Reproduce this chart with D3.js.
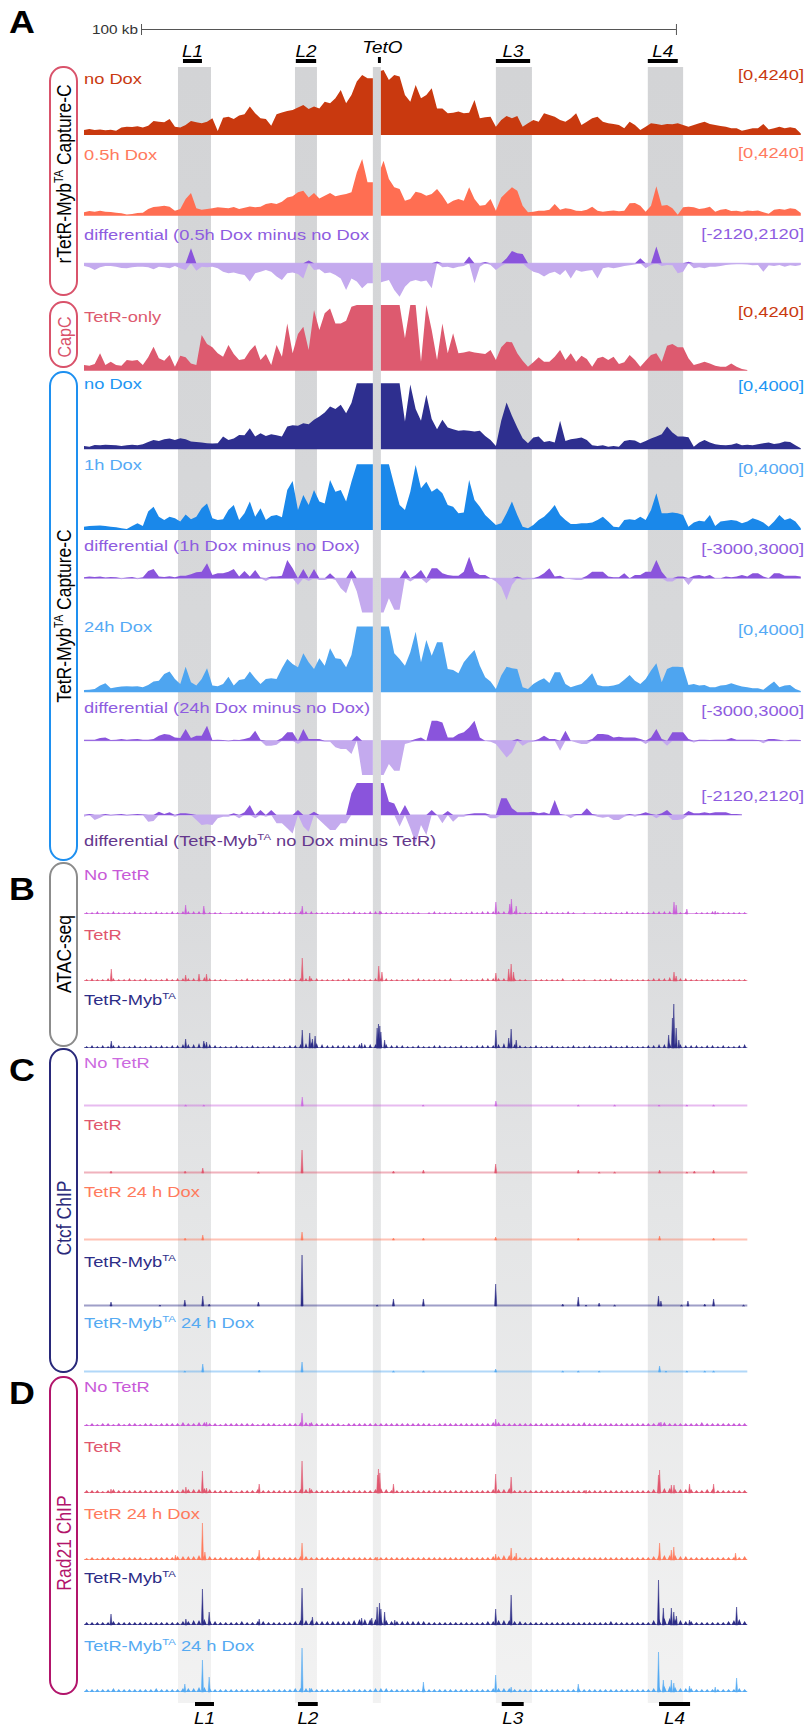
<!DOCTYPE html>
<html>
<head>
<meta charset="utf-8">
<script src="https://cdn.jsdelivr.net/npm/d3@7"></script>
<style>
  body { margin: 0; background: #fff; }
  svg { display: block; }
  text { font-family: "Liberation Sans", Arial, Helvetica, sans-serif; white-space: pre; }
</style>
</head>
<body>
<svg id="fig" width="806" height="1727"></svg>
<script>
// ---------------------------------------------------------------------------
// Capture-C profiles, one value per 1 kb bin from the left edge of the window
// ---------------------------------------------------------------------------
const rtNoDox = [
  310,370,310,350,290,330,270,460,520,500,
  540,460,580,870,830,790,1000,520,460,620,
  870,790,730,830,1040,250,1080,1140,1000,1210,
  1290,1770,1350,1040,1000,580,1290,1410,1500,1560,
  1710,1870,1620,1770,1660,2080,1980,2290,2810,1980,
  2500,3330,3740,3540,3540,3950,4060,3430,3740,3640,
  2500,2080,3120,2290,2500,2910,1660,1660,1350,1390,
  1460,1350,1390,2180,1040,1100,1140,520,940,1190,
  1040,1190,520,730,940,830,1350,1250,1140,940,
  830,1040,1350,620,830,1040,1140,830,730,690,
  620,420,830,620,310,520,730,690,620,690,
  670,730,620,520,620,730,830,690,620,560,
  520,420,420,270,350,420,420,690,350,420,
  520,420,480,420,100];
const rtHalfHour = [
  210,290,250,310,250,230,190,150,80,100,
  170,190,420,540,580,620,560,310,420,1040,
  1410,460,370,420,460,520,500,460,540,420,
  500,580,520,560,730,790,730,870,1140,1210,
  1460,1560,1140,1410,1080,1250,1410,1210,1290,1350,
  1460,2700,3540,2080,2080,2500,3430,2290,1770,1660,
  940,1040,1500,1410,1250,1350,1660,1250,730,940,
  1040,940,1770,1040,620,670,1040,310,1140,1460,
  1770,1560,620,210,250,310,310,370,730,370,
  460,420,310,290,370,560,310,250,290,330,
  270,310,770,790,620,250,620,1830,620,670,
  460,60,520,560,520,420,460,560,250,370,
  420,290,310,250,330,290,330,210,120,370,
  420,370,460,420,170];
const rtDiffHalfHour = [
  -170,-250,-420,-250,-170,-170,-210,-290,-310,-250,
  -210,-210,-250,-370,-210,-250,-310,-170,-310,-420,
  940,-460,-210,-250,-210,-310,-520,-620,-580,-670,
  -730,-1140,-620,-520,-420,-520,-830,-1040,-620,-580,
  -670,-940,170,-420,-370,-620,-580,-730,-940,-1660,
  -940,-1140,-1560,-1250,-1250,-1250,-1140,-1040,-1660,-2080,
  -1460,-1140,-1040,-1140,-1080,-1560,120,-250,-210,-310,
  -210,-170,420,-1250,-210,80,-100,-420,-170,310,
  770,620,580,-310,-520,-620,-830,-620,-520,-730,
  -420,-940,-420,-520,-460,-420,-940,-310,-250,-310,
  -250,-170,-120,-80,310,-310,-100,1040,-170,-100,
  -120,-620,-520,100,-310,-250,-310,-210,-210,-170,
  -100,-80,-60,-60,-80,-120,-100,-520,-120,-170,
  -100,-210,-120,-170,-100];
const tetrOnly = [
  370,320,430,1120,370,580,370,320,690,650,
  690,370,860,1550,800,650,1010,260,970,860,
  470,370,2300,1720,1510,1120,900,1660,1080,690,
  750,1290,1660,690,1080,370,1660,900,3050,1120,
  2370,2840,1330,3910,2620,3700,4020,3050,3050,3230,
  4130,5000,5000,5000,5000,5000,5000,5000,5000,5000,
  2090,5000,5000,580,5000,2620,690,3050,1120,2410,
  1120,1180,1250,1180,1120,1080,1330,690,1510,1870,
  1830,1120,650,260,540,860,580,580,900,1330,
  690,1120,580,970,750,260,800,900,690,900,
  430,540,1010,690,260,650,1010,1120,580,1610,
  1720,1510,1510,800,370,470,580,470,320,260,
  260,470,260,110,40];
const tmNoDox = [
  200,160,260,240,280,260,240,200,240,280,
  240,300,450,570,510,610,650,570,670,610,
  470,450,410,370,350,370,770,570,650,870,
  850,1280,770,970,810,910,850,770,1380,1460,
  1420,1580,1520,1790,1990,2230,2600,2440,2700,2190,
  2800,4800,4800,4800,4800,4800,4800,4800,4800,4800,
  1680,3920,2440,1730,3310,1830,1220,1790,1320,1220,
  1120,1160,1120,1080,1120,810,570,200,1730,2840,
  2030,1320,670,370,710,770,450,510,410,1730,
  510,610,650,710,570,240,200,240,160,200,
  160,510,570,530,370,510,650,770,910,1380,
  1020,770,770,730,160,410,570,410,300,260,
  240,280,370,240,280,240,300,370,410,320,
  370,470,450,240,60];
const tm1hDox = [
  200,240,260,280,240,200,160,100,60,240,
  410,240,1120,1420,810,610,810,710,510,950,
  650,810,1320,1620,710,610,650,1220,1520,610,
  1020,1730,810,1320,610,850,910,770,2440,2980,
  1220,2130,1520,2440,1730,1620,3050,2330,2440,1730,
  2940,4800,4800,4800,4800,4800,4800,4800,2740,1520,
  1220,2330,3960,2540,2940,2330,2540,2230,1520,1420,
  1020,1060,3050,1830,1420,910,610,300,410,1020,
  1730,910,200,100,300,610,810,1120,1520,910,
  610,370,370,410,410,450,610,810,510,200,
  160,610,650,610,810,610,1220,2230,1020,1020,
  1060,1020,910,200,450,570,510,910,240,510,
  570,610,570,410,510,710,610,450,200,510,
  910,610,710,510,100];
const tmDiff1h = [
  90,150,120,150,60,120,90,-90,60,120,
  -90,90,640,810,150,120,170,90,230,230,
  350,520,580,1310,290,440,440,580,810,150,
  640,150,730,60,-230,150,150,230,1600,870,
  -580,810,-230,810,-150,-150,440,-150,-870,-1310,
  730,-1160,-3200,-3200,-3200,-3200,-3200,-1750,-2760,-2760,
  730,-290,290,730,-440,870,870,440,290,230,
  230,580,1890,580,290,290,0,-290,-730,-1890,
  -580,150,-150,-90,-90,150,440,870,150,230,
  0,-90,-150,-150,230,580,580,580,150,90,
  90,440,0,290,290,580,580,1600,580,-290,
  -290,150,150,-580,230,290,150,290,0,0,
  150,90,150,290,150,440,440,150,0,440,
  440,230,230,230,150];
const tm24hDox = [
  140,160,200,410,550,240,300,350,370,350,
  370,300,450,650,710,1120,1260,810,510,1560,
  610,410,810,1460,410,370,510,950,410,750,
  810,1260,850,510,810,850,810,1460,2030,1730,
  1520,2380,1830,1420,2070,1620,2680,2070,2030,1520,
  2270,4800,4800,4800,4800,4800,4800,4800,2380,2030,
  1620,2440,3690,1830,3190,2230,3050,3050,1420,1360,
  1160,1830,2230,2580,1620,910,650,200,1020,1560,
  1460,1420,300,200,510,710,850,570,1220,1220,
  510,300,410,510,810,1160,450,370,370,410,
  510,770,1060,710,510,810,1320,1770,610,1420,
  1560,1560,1520,450,510,410,450,300,300,410,
  450,550,450,350,300,240,240,160,410,650,
  300,410,450,200,80];
const tmDiff24h = [
  90,90,90,230,290,60,90,150,90,120,
  150,90,90,150,440,580,520,290,230,1020,
  230,440,440,1310,60,90,60,-60,90,60,
  150,290,870,90,-440,-440,-350,230,730,730,
  -290,1020,150,150,150,-90,-90,-580,-730,-730,
  -1160,440,-3200,-3200,-3200,-3200,-3200,-2040,-2620,-2620,
  -290,-150,150,290,0,1750,1750,1600,290,290,
  580,730,1160,1750,290,0,-90,-290,-870,-1460,
  -1020,150,-440,-150,-90,150,440,150,150,-870,
  870,0,-150,-290,-290,150,580,580,520,290,
  350,290,290,290,150,-290,290,1020,150,-440,
  730,730,730,150,-150,90,90,60,90,90,
  90,230,90,90,90,90,60,-230,150,150,
  90,0,90,90,60];
const tmDiffVsTetR = [
  -110,70,-330,-180,70,-70,40,70,-70,40,
  70,40,-440,-400,220,70,180,-110,110,110,
  70,-330,-660,-620,-660,-220,-110,-110,110,-220,
  180,660,-220,330,-110,330,-550,-550,-880,-1220,
  330,-770,-1110,220,-330,-660,-990,-990,-550,-550,
  1440,2430,2430,2210,2430,2430,2430,880,770,-770,
  660,-880,-1880,-660,-1330,330,0,-550,270,-440,
  -110,-110,70,110,110,110,-220,-220,1110,1110,
  440,180,180,180,220,110,180,70,990,70,
  0,-220,70,70,440,70,-110,-180,-110,-330,
  -330,-110,70,-110,70,180,70,-220,110,330,
  -330,-330,-270,270,110,110,180,110,180,180,
  180,70,70,40];

// Data ranges printed at the right of each Capture-C track
const captureRanges = ["[0,4240]","[0,4240]","[-2120,2120]","[0,4240]","[0,4000]",
                       "[0,4000]","[-3000,3000]","[0,4000]","[-3000,3000]","[-2120,2120]"];

// ---------------------------------------------------------------------------
// ATAC / ChIP tracks: background signal per 1 kb bin and called peaks [kb, signal]
// ---------------------------------------------------------------------------
const atacNoTetRBg = [
  2,2,3,2,2,3,2,2,2,3, 2,2,2,3,2,2,3,2,3,3, 3,3,3,2,2,2,0,2,2,3, 2,2,2,3,2,2,3,2,2,2,
  3,3,3,2,2,2,2,2,2,2, 3,2,2,3,3,3,2,2,2,2, 2,2,2,0,2,3,2,2,2,2, 2,2,3,2,3,3,3,3,3,4,
  3,2,2,2,2,2,3,2,2,2, 3,2,0,2,0,2,2,2,2,2, 2,3,2,2,2,2,3,3,3,3, 3,2,2,0,2,2,2,3,2,2,
  2,2,2,2];
const atacTetRBg = [
  2,3,2,2,3,3,2,2,3,2, 2,3,2,2,2,3,2,3,3,3, 3,3,4,3,2,2,2,0,2,2, 3,2,2,2,2,2,2,2,3,2,
  3,3,3,3,2,2,2,2,2,3, 2,2,2,2,3,3,3,2,2,2, 2,2,3,2,2,2,2,2,3,0, 2,2,2,2,3,3,3,3,3,4,
  3,2,2,0,2,2,2,2,2,3, 0,2,2,2,0,2,2,2,3,2, 2,2,2,2,2,2,3,3,3,4, 3,3,3,2,2,2,2,2,2,2,
  2,2,2,2];
const atacMybBg = [
  2,3,2,3,2,3,3,2,2,3, 2,2,3,2,3,2,3,3,4,4, 4,5,5,4,3,2,2,2,3,2, 2,3,2,2,2,3,2,2,3,3,
  4,5,6,5,4,3,3,3,3,3, 3,4,4,4,4,4,4,3,3,3, 2,2,3,2,2,3,3,2,2,2, 3,2,2,3,3,3,3,4,5,5,
  4,3,2,2,3,2,2,3,2,2, 2,3,2,2,3,2,2,2,3,2, 2,3,2,2,2,3,3,4,4,5, 5,4,3,3,3,2,3,3,2,3,
  2,2,3,4];
const rad21NoTetRBg = [
  2,3,2,3,3,2,3,2,3,3, 2,3,3,2,3,3,3,3,4,3, 3,4,4,3,3,2,3,3,3,3, 3,3,2,3,3,3,2,3,3,3,
  4,4,4,3,3,3,3,3,2,3, 3,3,3,3,3,3,3,3,3,3, 3,3,3,3,3,2,3,3,3,3, 3,3,3,3,3,3,4,4,3,3,
  3,3,3,3,3,3,3,3,3,3, 3,3,3,4,3,3,3,3,3,3, 3,3,3,3,3,3,3,4,4,3, 3,3,3,3,3,4,3,3,3,3,
  3,3,3,3];
const rad21TetRBg = [
  3,3,3,2,3,4,3,3,3,3, 3,3,3,3,3,3,4,3,4,4, 4,4,5,4,3,3,3,3,2,3, 3,3,4,3,3,3,3,3,3,3,
  4,4,4,3,3,3,3,3,3,3, 3,3,3,3,4,5,4,3,3,3, 3,3,3,3,3,3,3,3,3,3, 3,3,3,3,3,3,4,4,4,5,
  3,3,3,3,3,3,3,3,3,3, 3,3,3,3,3,3,3,3,3,3, 3,3,3,3,3,3,4,5,5,5, 4,4,4,4,3,3,4,4,3,3,
  3,3,3,3];
const rad21TetRDoxBg = [
  2,3,2,3,3,3,2,3,3,3, 3,2,3,3,3,3,3,4,4,4, 4,5,5,4,3,3,3,3,3,3, 3,3,4,3,3,3,3,3,3,3,
  4,4,3,3,3,3,3,3,3,3, 3,3,3,3,3,3,3,3,3,3, 3,3,3,3,3,3,3,3,3,3, 3,3,3,3,3,3,4,4,5,5,
  4,3,3,3,3,3,3,3,3,3, 3,3,3,3,3,3,3,3,3,3, 3,3,3,3,3,3,4,5,5,5, 5,4,4,3,3,3,3,3,3,3,
  3,3,3,4];
const rad21MybBg = [
  3,3,3,3,3,4,3,3,3,3, 3,3,3,3,3,3,3,3,4,4, 5,5,6,5,4,3,3,3,3,4, 3,3,4,4,3,3,3,3,3,4,
  5,5,5,4,4,4,4,4,4,4, 5,6,6,6,6,6,5,4,4,4, 4,4,4,4,3,3,3,3,3,3, 3,3,3,3,3,4,4,5,5,5,
  4,4,3,3,3,3,3,3,3,3, 3,3,3,3,3,3,3,3,4,3, 3,3,3,3,3,3,5,6,7,7, 6,5,4,4,3,3,3,3,3,3,
  4,5,6,4];
const rad21MybDoxBg = [
  3,3,3,3,3,4,3,3,3,3, 3,3,3,4,3,3,3,3,4,4, 4,5,5,4,3,3,3,3,3,3, 3,3,3,3,3,3,3,3,3,4,
  4,4,4,3,3,3,3,3,3,3, 3,3,3,3,4,4,4,3,3,3, 3,3,3,4,3,3,3,3,3,3, 3,3,3,3,3,3,4,4,4,4,
  3,3,3,3,3,3,3,3,3,3, 3,3,4,3,3,3,3,3,3,3, 3,3,3,3,3,3,4,5,6,6, 5,4,4,4,3,3,3,3,3,3,
  3,3,4,3];

const atacNoTetRPeaks = [[19.0,9],[22.4,8],[40.8,8],[55.3,3],[77.0,12],[79.6,10],[79.9,15],[80.8,8],[110.3,12],[110.7,9],[112.7,5],[118.0,3]];
const atacTetRPeaks = [[5.1,12],[19.0,6],[21.5,7],[22.9,7],[40.8,23],[42.2,5],[55.1,15],[55.7,9],[77.0,8],[79.4,12],[79.85,17],[80.3,9],[110.3,9],[110.7,5]];
const atacMybPeaks = [[5.1,7],[19.0,9],[22.4,7],[22.9,6],[40.8,18],[42.2,15],[42.7,9],[43.2,12],[51.9,5],[54.8,20],[55.05,24],[55.3,22],[55.5,16],[56.2,8],[77.0,18],[79.4,10],[79.85,19],[80.8,8],[109.3,13],[110.0,30],[110.26,44],[110.7,20],[111.2,8]];
const ctcfNoTetRPeaks = [[19.0,1],[22.4,1],[40.8,9],[63.4,1],[77.0,5],[92.4,1],[99.2,1],[107.5,1],[112.7,1],[117.7,1]];
const ctcfTetRPeaks = [[5.05,2],[18.9,2],[22.2,5],[32.6,1],[40.76,23],[57.85,2],[63.45,3],[76.96,9],[92.4,3],[96.3,1],[99.2,1],[107.6,3],[112.7,1],[114.1,2],[117.7,3]];
const ctcfTetRDoxPeaks = [[18.9,2],[22.2,5],[40.76,8],[57.85,2],[63.45,2],[76.96,3],[92.4,2],[107.6,4],[117.7,2]];
const ctcfMybPeaks = [[5.05,4],[14.2,1],[18.85,6],[22.2,10],[23.4,2],[32.6,4],[40.76,51],[54.8,1],[57.85,7],[63.45,7],[76.96,22],[89.5,2],[92.4,9],[93.85,1],[96.3,3],[99.2,1],[107.4,10],[107.85,5],[111.7,1],[112.9,5],[116.05,2],[117.7,7],[123.3,1]];
const ctcfMybDoxPeaks = [[18.85,1],[22.2,8],[32.75,2],[40.76,10],[57.85,1],[63.45,1],[76.96,3],[89.5,1],[92.4,1],[96.3,1],[107.6,6],[108.8,1],[112.7,1],[116.05,1],[117.7,1]];
const rad21NoTetRPeaks = [[22.9,4],[40.76,13],[42.2,3],[76.96,7],[107.85,4]];
const rad21TetRPeaks = [[5.05,4],[19.05,6],[22.14,22],[22.9,5],[32.75,9],[40.76,32],[42.2,5],[54.9,18],[55.05,24],[55.3,20],[57.85,9],[76.96,19],[79.85,16],[93.85,3],[107.4,18],[107.6,23],[109.8,8],[110.3,8],[113.2,9],[117.7,9]];
const rad21TetRDoxPeaks = [[17.1,5],[22.14,37],[22.6,8],[32.75,10],[40.76,17],[54.8,3],[76.96,6],[79.85,12],[80.8,7],[107.6,17],[109.8,10],[110.26,13],[121.8,7]];
const rad21MybPeaks = [[5.05,11],[19.05,6],[22.14,36],[23.4,13],[32.75,6],[40.76,37],[42.7,8],[51.9,7],[53.8,7],[54.8,18],[55.24,22],[55.5,16],[56.2,13],[58.1,5],[76.96,16],[79.85,30],[107.4,45],[108.3,17],[109.8,17],[110.26,13],[110.74,9],[113.2,5],[122.0,18]];
const rad21MybDoxPeaks = [[18.85,8],[22.14,32],[23.4,15],[40.76,44],[42.2,4],[63.45,10],[76.96,17],[79.85,5],[92.4,8],[107.4,40],[108.3,12],[109.8,12],[110.26,9],[113.2,6],[118.0,5],[122.0,14]];

// ---------------------------------------------------------------------------
// Loci (kb): highlighted columns, locus bars above and below the tracks
// ---------------------------------------------------------------------------
const lociNames = ["L1","L2","L3","L4"];
const shadedLoci = [[17.57,23.74],[39.44,43.55],[54.0,55.5],[77.0,83.74],[105.4,112.0]];
const topLocusBars = [[18.5,22.05],[39.6,43.4],[77.0,83.4],[105.4,111.0]];
const tetOSite = [54.95,55.5];
const bottomLocusBars = [[20.75,24.3],[40.0,43.7],[78.1,82.2],[107.5,113.3]];
const scaleBarKb = [10.66,110.66];

// ---------------------------------------------------------------------------
const svg = d3.select("#fig");
const x = d3.scaleLinear().domain([0, 134.6]).range([84, 804]);
const SX = 1.18;   // horizontal text stretch of the figure

function addText(parent, px, py, str, o) {
  const g = parent.append("g")
    .attr("transform", `translate(${px},${py}) scale(${o.sx ?? SX},1)` + (o.rotate ? ` rotate(${o.rotate})` : ""));
  const t = g.append("text")
    .attr("text-anchor", o.anchor || "start")
    .attr("font-size", o.size)
    .attr("fill", o.color || "#000");
  if (o.italic) t.attr("font-style", "italic");
  if (o.bold) t.attr("font-weight", "bold");
  if (o.dy) t.attr("dy", o.dy);
  const parts = str.split(/(\{[^}]*\})/).filter(s => s.length);
  let raised = false;
  parts.forEach(p => {
    const sup = p.startsWith("{");
    const ts = t.append("tspan").text(sup ? p.slice(1, -1) : p);
    if (sup) { ts.attr("font-size", o.size * 0.62).attr("dy", -o.size * 0.4); raised = true; }
    else if (raised) { ts.attr("dy", o.size * 0.4); raised = false; }
  });
  return g;
}

// shading gradient (columns fade toward the bottom)
const defs = svg.append("defs");
const grad = defs.append("linearGradient").attr("id", "shade")
  .attr("gradientUnits", "userSpaceOnUse").attr("x1", 0).attr("x2", 0).attr("y1", 67).attr("y2", 1703);
[[0, "#d3d4d6"], [0.5, "#d9dadc"], [0.7, "#e4e5e6"], [1, "#f2f2f2"]]
  .forEach(([o, c]) => grad.append("stop").attr("offset", o).attr("stop-color", c));

// Capture-C signal is absent over the TetO viewpoint
const clip = defs.append("clipPath").attr("id", "noViewpoint");
clip.append("rect").attr("x", 0).attr("y", 0).attr("width", x(shadedLoci[2][0])).attr("height", 1727);
clip.append("rect").attr("x", x(shadedLoci[2][1])).attr("y", 0).attr("width", 806).attr("height", 1727);

svg.append("g").selectAll("rect").data(shadedLoci).join("rect")
  .attr("x", d => x(d[0])).attr("width", d => x(d[1]) - x(d[0]))
  .attr("y", 67).attr("height", 1703 - 67).attr("fill", "url(#shade)");

// ---------------------------------------------------------------------------
// Panel A: Capture-C tracks
// ---------------------------------------------------------------------------
const PURPLE = "#8e5ce0", POS = "#8a54dc", NEG = "#c4aaee";
const captureTracks = [
  { data: rtNoDox, diff: false, domain: [0, 4240], base: 135, h: 68, color: "#c9390f",
    label: "no Dox", labelColor: "#c9390f", labelY: 83.5, rangeColor: "#c9390f", rangeY: 80 },
  { data: rtHalfHour, diff: false, domain: [0, 4240], base: 215.7, h: 68, color: "#ff6e52",
    label: "0.5h Dox", labelColor: "#ff7a5e", labelY: 160, rangeColor: "#ff7a5e", rangeY: 158 },
  { data: rtDiffHalfHour, diff: true, domain: [-2120, 2120], base: 263.3, h: 34,
    label: "differential (0.5h Dox minus no Dox", labelColor: PURPLE, labelY: 240, rangeColor: PURPLE, rangeY: 239 },
  { data: tetrOnly, diff: false, domain: [0, 4240], base: 370.7, h: 65.7, color: "#dd5a6f",
    label: "TetR-only", labelColor: "#dd5a6f", labelY: 322, rangeColor: "#c9390f", rangeY: 317 },
  { data: tmNoDox, diff: false, domain: [0, 4000], base: 449.3, h: 66, color: "#2e2f8f",
    label: "no Dox", labelColor: "#2196f3", labelY: 389, rangeColor: "#2196f3", rangeY: 391 },
  { data: tm1hDox, diff: false, domain: [0, 4000], base: 530, h: 65.7, color: "#1a88ea",
    label: "1h Dox", labelColor: "#55aaf5", labelY: 470, rangeColor: "#55aaf5", rangeY: 474 },
  { data: tmDiff1h, diff: true, domain: [-3000, 3000], base: 578.3, h: 34.3,
    label: "differential (1h Dox minus no Dox)", labelColor: PURPLE, labelY: 551, rangeColor: PURPLE, rangeY: 554 },
  { data: tm24hDox, diff: false, domain: [0, 4000], base: 692.3, h: 65.7, color: "#4ea5f0",
    label: "24h Dox", labelColor: "#55aaf5", labelY: 632, rangeColor: "#55aaf5", rangeY: 635 },
  { data: tmDiff24h, diff: true, domain: [-3000, 3000], base: 740.7, h: 34.3,
    label: "differential (24h Dox minus no Dox)", labelColor: PURPLE, labelY: 713, rangeColor: PURPLE, rangeY: 716 },
  { data: tmDiffVsTetR, diff: true, domain: [-2120, 2120], base: 815, h: 32,
    label: "differential (TetR-Myb{TA} no Dox minus TetR)", labelColor: "#64378c", labelY: 846, rangeColor: PURPLE, rangeY: 801 }
];

const capG = svg.append("g").attr("clip-path", "url(#noViewpoint)");
const labG = svg.append("g");
captureTracks.forEach((t, ti) => {
  const y = t.diff
    ? d3.scaleLinear().domain(t.domain).range([t.base + t.h, t.base - t.h]).clamp(true)
    : d3.scaleLinear().domain(t.domain).range([t.base, t.base - t.h]).clamp(true);
  const pts = t.data.map((v, i) => [i, v]);
  if (t.diff) {
    const zero = y(0);
    capG.append("line").attr("x1", x(0)).attr("x2", x(t.data.length - 1))
      .attr("y1", zero).attr("y2", zero).attr("stroke", NEG).attr("stroke-width", 1);
    const neg = d3.area().x(d => x(d[0])).y0(zero).y1(d => y(Math.min(d[1], 0)));
    const pos = d3.area().x(d => x(d[0])).y0(zero).y1(d => y(Math.max(d[1], 0)));
    capG.append("path").attr("d", neg(pts)).attr("fill", NEG);
    capG.append("path").attr("d", pos(pts)).attr("fill", POS);
  } else {
    const area = d3.area().x(d => x(d[0])).y0(y(0)).y1(d => y(d[1]));
    capG.append("path").attr("d", area(pts)).attr("fill", t.color);
  }
  addText(labG, 84, t.labelY, t.label, { size: 15.5, color: t.labelColor });
  addText(labG, 804, t.rangeY, captureRanges[ti], { size: 15.5, color: t.rangeColor, anchor: "end" });
});

// ---------------------------------------------------------------------------
// Panels B-D: ATAC-seq and ChIP tracks
// ---------------------------------------------------------------------------
const C_NO = "#c85ad8", C_TETR = "#e0566e", C_TETRDOX = "#ff7a5c", C_MYB = "#2d2d87", C_MYBDOX = "#55aaf2";
const chipTracks = [
  { label: "No TetR", color: C_NO, base: 914, labelY: 880, bg: atacNoTetRBg, bgW: 0.32, peaks: atacNoTetRPeaks },
  { label: "TetR", color: C_TETR, base: 981, labelY: 940, bg: atacTetRBg, bgW: 0.32, peaks: atacTetRPeaks },
  { label: "TetR-Myb{TA}", color: C_MYB, base: 1048, labelY: 1005, bg: atacMybBg, bgW: 0.32, peaks: atacMybPeaks },
  { label: "No TetR", color: "#cc6ae0", base: 1106, labelY: 1068, bg: null, peaks: ctcfNoTetRPeaks, flat: true },
  { label: "TetR", color: C_TETR, base: 1173, labelY: 1130, bg: null, peaks: ctcfTetRPeaks, flat: true },
  { label: "TetR 24 h Dox", color: C_TETRDOX, base: 1240, labelY: 1197, bg: null, peaks: ctcfTetRDoxPeaks, flat: true },
  { label: "TetR-Myb{TA}", color: C_MYB, base: 1306, labelY: 1267, bg: null, peaks: ctcfMybPeaks, flat: true },
  { label: "TetR-Myb{TA} 24 h Dox", color: C_MYBDOX, base: 1372, labelY: 1328, bg: null, peaks: ctcfMybDoxPeaks, flat: true },
  { label: "No TetR", color: C_NO, base: 1426, labelY: 1392, bg: rad21NoTetRBg, bgW: 0.45, peaks: rad21NoTetRPeaks },
  { label: "TetR", color: C_TETR, base: 1493, labelY: 1452, bg: rad21TetRBg, bgW: 0.45, peaks: rad21TetRPeaks },
  { label: "TetR 24 h Dox", color: C_TETRDOX, base: 1560, labelY: 1519, bg: rad21TetRDoxBg, bgW: 0.45, peaks: rad21TetRDoxPeaks },
  { label: "TetR-Myb{TA}", color: C_MYB, base: 1625, labelY: 1583, bg: rad21MybBg, bgW: 0.45, peaks: rad21MybPeaks },
  { label: "TetR-Myb{TA} 24 h Dox", color: C_MYBDOX, base: 1692, labelY: 1651, bg: rad21MybDoxBg, bgW: 0.45, peaks: rad21MybDoxPeaks }
];
const chipEnd = 124;
const chipG = svg.append("g");
chipTracks.forEach(t => {
  const y = d3.scaleLinear().domain([0, 60]).range([t.base, t.base - 60]);
  const spike = d3.area().x(d => x(d[0])).y0(y(0)).y1(d => y(d[1]));
  const spikes = (list, w) => list.map(([k, v]) => spike([[k - w, 0], [k, v], [k + w, 0]])).join("");
  chipG.append("line").attr("x1", x(0)).attr("x2", x(chipEnd)).attr("y1", y(0) - 0.5).attr("y2", y(0) - 0.5)
    .attr("stroke", t.color).attr("stroke-width", t.flat ? 2 : 1.2).attr("opacity", t.flat ? 0.45 : 0.6);
  if (t.bg) {
    chipG.append("path").attr("d", spikes(t.bg.map((v, i) => [i + 0.5, v]), t.bgW)).attr("fill", t.color);
  }
  chipG.append("path").attr("d", spikes(t.peaks, 0.2)).attr("fill", t.color)
    .attr("stroke", t.color).attr("stroke-width", 0.5);
  addText(labG, 84, t.labelY, t.label, { size: 15.5, color: t.color });
});

// ---------------------------------------------------------------------------
// Group brackets, panel letters, scale bar, locus marks
// ---------------------------------------------------------------------------
const groups = [
  { y0: 67, y1: 295, color: "#d9536b", text: "rTetR-Myb{TA} Capture-C", textColor: "#000", cy: 174, size: 17.5 },
  { y0: 302, y1: 367, color: "#d9536b", text: "CapC", textColor: "#d9536b", cy: 337, size: 16 },
  { y0: 372, y1: 860, color: "#1e90f0", text: "TetR-Myb{TA} Capture-C", textColor: "#000", cy: 616, size: 17.5 },
  { y0: 863, y1: 1046, color: "#8c8c8c", text: "ATAC-seq", textColor: "#000", cy: 954, size: 17.5 },
  { y0: 1049, y1: 1372, color: "#29297a", text: "Ctcf ChIP", textColor: "#29297a", cy: 1218, size: 17.5 },
  { y0: 1377, y1: 1694, color: "#b2156b", text: "Rad21 ChIP", textColor: "#b2156b", cy: 1543, size: 17.5 }
];
const decoG = svg.append("g");
groups.forEach(g => {
  decoG.append("rect").attr("x", 50).attr("y", g.y0).attr("width", 27).attr("height", g.y1 - g.y0)
    .attr("rx", 13).attr("ry", 14).attr("fill", "none").attr("stroke", g.color).attr("stroke-width", 2);
  addText(decoG, 64, g.cy, g.text, { size: g.size, color: g.textColor, anchor: "middle", rotate: -90, dy: "0.36em" });
});

[["A", 33], ["B", 900], ["C", 1081], ["D", 1404]].forEach(([s, yy]) =>
  addText(decoG, 9, yy, s, { size: 32, bold: true, color: "#000", sx: 1.12 }));

// 100 kb scale bar
const sb = decoG.append("g").attr("stroke", "#555").attr("stroke-width", 1);
sb.append("line").attr("x1", x(scaleBarKb[0])).attr("x2", x(scaleBarKb[1])).attr("y1", 29.5).attr("y2", 29.5);
scaleBarKb.forEach(k => sb.append("line").attr("x1", x(k) + 0.5).attr("x2", x(k) + 0.5).attr("y1", 24).attr("y2", 35));
addText(decoG, x(scaleBarKb[0]) - 3, 34, "100 kb", { size: 13, color: "#333", anchor: "end" });

// locus bars and names
topLocusBars.forEach((b, i) => {
  decoG.append("rect").attr("x", x(b[0])).attr("width", x(b[1]) - x(b[0])).attr("y", 59).attr("height", 4).attr("fill", "#000");
  addText(decoG, (x(b[0]) + x(b[1])) / 2, 57, lociNames[i], { size: 16, italic: true, anchor: "middle" });
});
decoG.append("rect").attr("x", x(tetOSite[0])).attr("width", x(tetOSite[1]) - x(tetOSite[0]))
  .attr("y", 57).attr("height", 6).attr("fill", "#000");
addText(decoG, x((tetOSite[0] + tetOSite[1]) / 2) + 3, 53, "TetO", { size: 16, italic: true, anchor: "middle" });
bottomLocusBars.forEach((b, i) => {
  decoG.append("rect").attr("x", x(b[0])).attr("width", x(b[1]) - x(b[0])).attr("y", 1702).attr("height", 4).attr("fill", "#000");
  addText(decoG, (x(b[0]) + x(b[1])) / 2, 1724, lociNames[i], { size: 16, italic: true, anchor: "middle" });
});
</script>
</body>
</html>
